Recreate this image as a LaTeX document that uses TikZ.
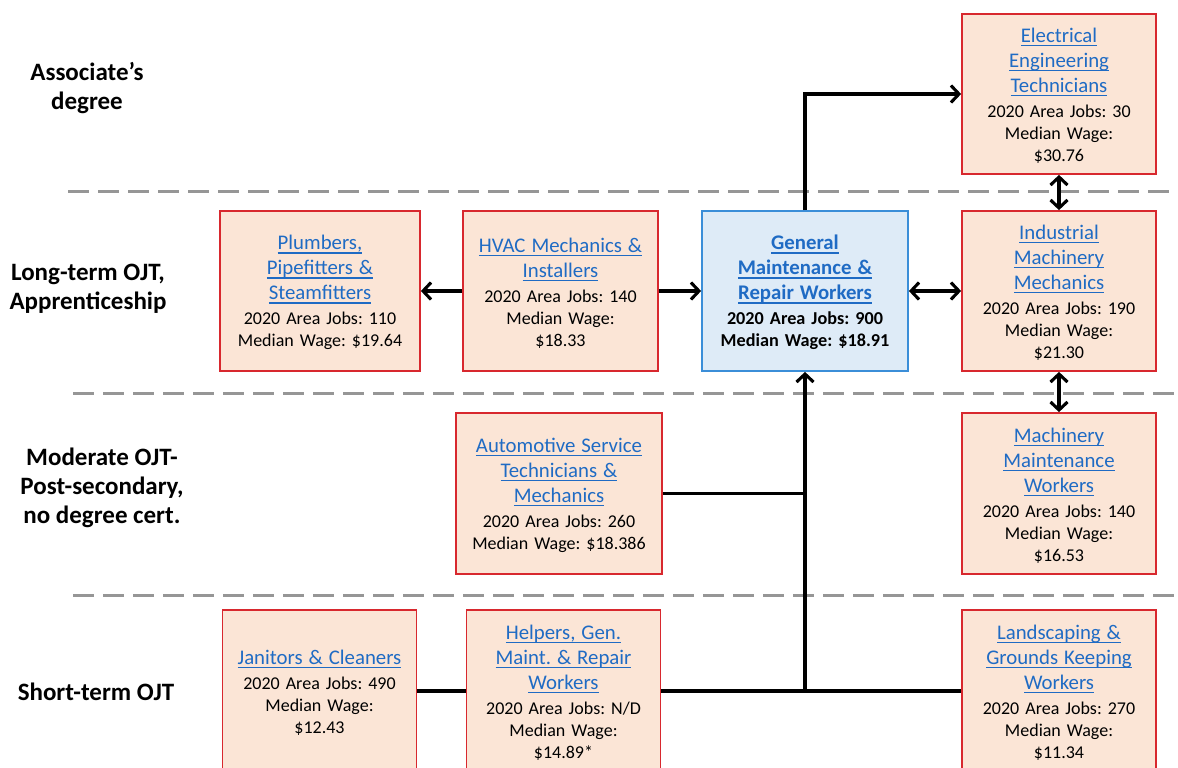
\documentclass[tikz,border=0pt]{standalone}
\usepackage{fontspec}
\setmainfont{Carlito}
\usetikzlibrary{arrows.meta}

\definecolor{peach}{HTML}{FBE5D6}
\definecolor{boxred}{HTML}{D8282E}
\definecolor{skyfill}{HTML}{DEEBF7}
\definecolor{skyline}{HTML}{3B8ED8}
\definecolor{linkblue}{HTML}{1F6BC4}
\definecolor{tiergray}{HTML}{969696}

% underlined hyperlink-style text, set a size larger than the figures below it
\newcommand\lnk[1]{\leavevmode{\fontsize{20.8}{25}\selectfont\color{linkblue}%
  \setbox0=\hbox{#1}\rlap{\rule[-3.9pt]{\wd0}{1.4pt}}\box0}}
% lifts the first line so the text block sits a little lower
\newcommand\topgap{\leavevmode\rule{0pt}{18pt}}

\tikzset{
  occ/.style={draw=boxred, line width=1.8pt, fill=peach, align=center,
    text width=194pt, inner xsep=0pt, inner ysep=0pt,
    minimum height=160pt, font=\fontsize{18}{22}\selectfont\frenchspacing,
    execute at begin node=\topgap},
  hub/.style={occ, draw=skyline, fill=skyfill,
    font=\fontsize{18.2}{22}\selectfont\bfseries\frenchspacing},
  tier/.style={align=center, font=\fontsize{25}{29}\selectfont\bfseries},
  divider/.style={tiergray, line width=3pt, dash pattern=on 21pt off 9pt},
  conn/.style={line width=3.1pt, black},
  tip/.style={-{Straight Barb[length=8pt,width=17pt]}},
  tips/.style={{Straight Barb[length=8pt,width=17pt]}-{Straight Barb[length=8pt,width=17pt]}}
}

\begin{document}
\begin{tikzpicture}[x=1pt,y=-1pt]
\useasboundingbox (0,0) rectangle (1178,768);
\clip (0,0) rectangle (1178,768);

% tier dividers
\draw[divider] (68,191) -- (1178,191);
\draw[divider] (73,393) -- (1178,393);
\draw[divider] (73,595) -- (1178,595);

% tier labels
\node[tier] (t1) at (87,88) {Associate’s\\degree};
\node[tier] (t2) at (88,289) {Long-term OJT,\\Apprenticeship};
\node[tier] (t3) at (102,488) {Moderate OJT-\\Post-secondary,\\no degree cert.};
\node[tier] (t4) at (96,692) {Short-term OJT};

% occupations
\node[occ, minimum width=192pt] (elec) at (1059,94)
  {\lnk{Electrical}\\[3pt]\lnk{Engineering}\\[3pt]\lnk{Technicians}\\[3pt]2020 Area Jobs: 30\\Median Wage:\\\$30.76};

\node[occ, minimum width=200pt] (plumb) at (320,291)
  {\lnk{Plumbers,}\\[3pt]\lnk{Pipefitters \&}\\[3pt]\lnk{Steamfitters}\\[3pt]2020 Area Jobs: 110\\Median Wage: \$19.64};

\node[occ, minimum width=195pt] (hvac) at (560.5,291)
  {\lnk{HVAC Mechanics \&}\\[3pt]\lnk{Installers}\\[3pt]2020 Area Jobs: 140\\Median Wage:\\\$18.33};

\node[hub, minimum width=206pt] (gen) at (805,291)
  {\lnk{General}\\[3pt]\lnk{Maintenance \&}\\[3pt]\lnk{Repair Workers}\\[3pt]2020 Area Jobs: 900\\Median Wage: \$18.91};

\node[occ, minimum width=192pt] (ind) at (1059,291)
  {\lnk{Industrial}\\[3pt]\lnk{Machinery}\\[3pt]\lnk{Mechanics}\\[3pt]2020 Area Jobs: 190\\Median Wage:\\\$21.30};

\node[occ, minimum width=206pt, minimum height=161pt] (auto) at (559,493.5)
  {\lnk{Automotive Service}\\[3pt]\lnk{Technicians \&}\\[3pt]\lnk{Mechanics}\\[3pt]2020 Area Jobs: 260\\Median Wage: \$18.386};

\node[occ, minimum width=192pt, minimum height=161pt] (mach) at (1059,493.5)
  {\lnk{Machinery}\\[3pt]\lnk{Maintenance}\\[3pt]\lnk{Workers}\\[3pt]2020 Area Jobs: 140\\Median Wage:\\\$16.53};

\node[occ, minimum width=193pt, minimum height=162pt] (jan) at (319.5,691)
  {\lnk{Janitors \& Cleaners}\\[3pt]2020 Area Jobs: 490\\Median Wage:\\\$12.43};

\node[occ, minimum width=193pt, minimum height=162pt] (help) at (563.5,691)
  {\lnk{Helpers, Gen.}\\[3pt]\lnk{Maint. \& Repair}\\[3pt]\lnk{Workers}\\[3pt]2020 Area Jobs: N/D\\Median Wage:\\\$14.89*};

\node[occ, minimum width=192pt, minimum height=162pt] (land) at (1059,691)
  {\lnk{Landscaping \&}\\[3pt]\lnk{Grounds Keeping}\\[3pt]\lnk{Workers}\\[3pt]2020 Area Jobs: 270\\Median Wage:\\\$11.34};

% career paths
\coordinate (base) at (gen.south |- help.east);
\coordinate (mid) at (gen.south |- auto.east);
\draw[conn] (jan.east) -- (help.west);
\draw[conn] (help.east) -- (land.west);
\draw[conn, tip] (base) -- (gen.south);
\draw[conn] (auto.east) -- (mid);
\draw[conn, tip] (gen.north) |- (elec.west);
\draw[conn, tip] (hvac.east) -- (gen.west);
\draw[conn, tip] (hvac.west) -- (plumb.east);
\draw[conn, tips] (gen.east) -- (ind.west);
\draw[conn, tips] (elec.south) -- (ind.north);
\draw[conn, tips] (ind.south) -- (mach.north);
\end{tikzpicture}
\end{document}
